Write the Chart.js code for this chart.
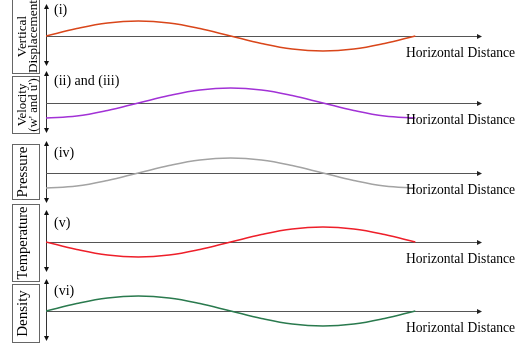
<!DOCTYPE html>
<html><head><meta charset="utf-8">
<script src="https://cdn.jsdelivr.net/npm/chart.js@4/dist/chart.umd.min.js"></script>
<style>
html,body{margin:0;padding:0;background:#fff}
body{width:515px;height:347px;overflow:hidden;position:relative}
canvas{position:absolute;left:0}
</style></head>
<body>
<script>
// ---- data (amplitude normalised to 1) ----
const distance     = [0, 30, 60, 90, 120, 150, 180, 210, 240, 270, 300, 330, 360];
const vertDisp     = [0, 0.5, 0.87, 1, 0.87, 0.5, 0, -0.5, -0.87, -1, -0.87, -0.5, 0];
const velocity     = [-1, -0.87, -0.5, 0, 0.5, 0.87, 1, 0.87, 0.5, 0, -0.5, -0.87, -1];
const pressure     = [-1, -0.87, -0.5, 0, 0.5, 0.87, 1, 0.87, 0.5, 0, -0.5, -0.87, -1];
const temperature  = [0, -0.5, -0.87, -1, -0.87, -0.5, 0, 0.5, 0.87, 1, 0.87, 0.5, 0];
const density      = [0, 0.5, 0.87, 1, 0.87, 0.5, 0, -0.5, -0.87, -1, -0.87, -0.5, 0];
const panelLabels  = [["Vertical", "Displacement"], ["Velocity", "(w' and u')"], ["Pressure"], ["Temperature"], ["Density"]];
const panelTags    = ["(i)", "(ii) and (iii)", "(iv)", "(v)", "(vi)"];
const xAxisLabel   = "Horizontal Distance";

// ---- layout / style ----
const series  = [vertDisp, velocity, pressure, temperature, density];
const colors  = ["#D9461A", "#A232D6", "#A3A3A3", "#EE1F2A", "#2A7A4E"];
const zeroY   = [36, 103, 173, 242, 311];
const boxRel  = [[-37, 37], [-27, 30], [-29, 26], [-38, 39], [-27, 31]];
const labelPx = [13.3, 12.8, 15, 14.5, 15];
const tagRel  = [-26, -22, -20, -19, -20];
const CANVAS_H = 86, ABOVE = 42;
const FONT = '"Liberation Serif", "Times New Roman", serif';

function arrowHead(ctx, x, y, dir) {
  ctx.beginPath();
  if (dir === 'up') { ctx.moveTo(x, y); ctx.lineTo(x - 2.5, y + 5); ctx.lineTo(x + 2.5, y + 5); }
  else if (dir === 'down') { ctx.moveTo(x, y); ctx.lineTo(x - 2.5, y - 5); ctx.lineTo(x + 2.5, y - 5); }
  else { ctx.moveTo(x, y); ctx.lineTo(x - 5, y - 2.5); ctx.lineTo(x - 5, y + 2.5); }
  ctx.closePath(); ctx.fill();
}

const decor = {
  id: 'decor',
  beforeDatasetsDraw(chart, args, opts) {
    const {ctx, chartArea: a, scales} = chart;
    const x0 = a.left, y0 = scales.y.getPixelForValue(0);
    ctx.save();
    ctx.strokeStyle = '#333'; ctx.fillStyle = '#111'; ctx.lineWidth = 1;
    ctx.beginPath(); ctx.moveTo(x0 + 0.5, a.top + 2); ctx.lineTo(x0 + 0.5, a.bottom - 2); ctx.stroke();
    arrowHead(ctx, x0 + 0.5, a.top, 'up'); arrowHead(ctx, x0 + 0.5, a.bottom, 'down');
    ctx.strokeStyle = '#555';
    ctx.beginPath(); ctx.moveTo(x0, Math.round(y0) + 0.5); ctx.lineTo(a.right - 2, Math.round(y0) + 0.5); ctx.stroke();
    ctx.fillStyle = '#222';
    arrowHead(ctx, a.right, Math.round(y0) + 0.5, 'right');
    ctx.restore();
  },
  afterDraw(chart, args, opts) {
    const {ctx, chartArea: a, scales} = chart;
    const y0 = scales.y.getPixelForValue(0);
    ctx.save();
    // boxed vertical label
    const bt = y0 + opts.box[0], bb = y0 + opts.box[1];
    ctx.strokeStyle = '#666'; ctx.lineWidth = 1;
    ctx.strokeRect(12.5, bt + 0.5, 27, bb - bt);
    ctx.fillStyle = '#000';
    const two = opts.label.length > 1;
    ctx.font = opts.size + 'px ' + FONT;
    ctx.textAlign = 'center'; ctx.textBaseline = 'alphabetic';
    const cy = (bt + bb) / 2 + 0.5;
    opts.label.forEach((ln, i) => {
      ctx.save();
      ctx.translate(i === 0 ? (two ? 26 : 27) : 36.5, cy);
      ctx.rotate(-Math.PI / 2);
      ctx.fillText(ln, 0, 0);
      ctx.restore();
    });
    // tag
    ctx.font = '14px ' + FONT;
    ctx.textAlign = 'left'; ctx.textBaseline = 'middle';
    ctx.fillText(opts.tag, 54, y0 + opts.tagY);
    // horizontal axis label
    ctx.font = '13.6px ' + FONT;
    ctx.fillText(xAxisLabel, 406, y0 + 17);
    ctx.restore();
  }
};

series.forEach((vals, i) => {
  const cv = document.createElement('canvas');
  cv.width = 515; cv.height = CANVAS_H;
  cv.style.top = (zeroY[i] - ABOVE) + 'px';
  cv.style.width = '515px'; cv.style.height = CANVAS_H + 'px';
  document.body.appendChild(cv);
  new Chart(cv, {
    type: 'line',
    data: {
      datasets: [{
        data: distance.map((d, k) => ({x: d, y: vals[k]})),
        borderColor: colors[i], borderWidth: 1.6, pointRadius: 0,
        tension: 0.4, fill: false
      }]
    },
    options: {
      responsive: false, animation: false, devicePixelRatio: 1,
      layout: {padding: {left: 46, right: 33, top: ABOVE - 32, bottom: CANVAS_H - ABOVE - 30}},
      plugins: {
        legend: {display: false}, tooltip: {enabled: false},
        decor: {label: panelLabels[i], tag: panelTags[i], box: boxRel[i], tagY: tagRel[i], size: labelPx[i]}
      },
      scales: {
        x: {type: 'linear', min: 0, max: 425, display: false},
        y: {min: -2, max: 32 / 15, display: false}
      }
    },
    plugins: [decor]
  });
});
</script>
</body></html>
